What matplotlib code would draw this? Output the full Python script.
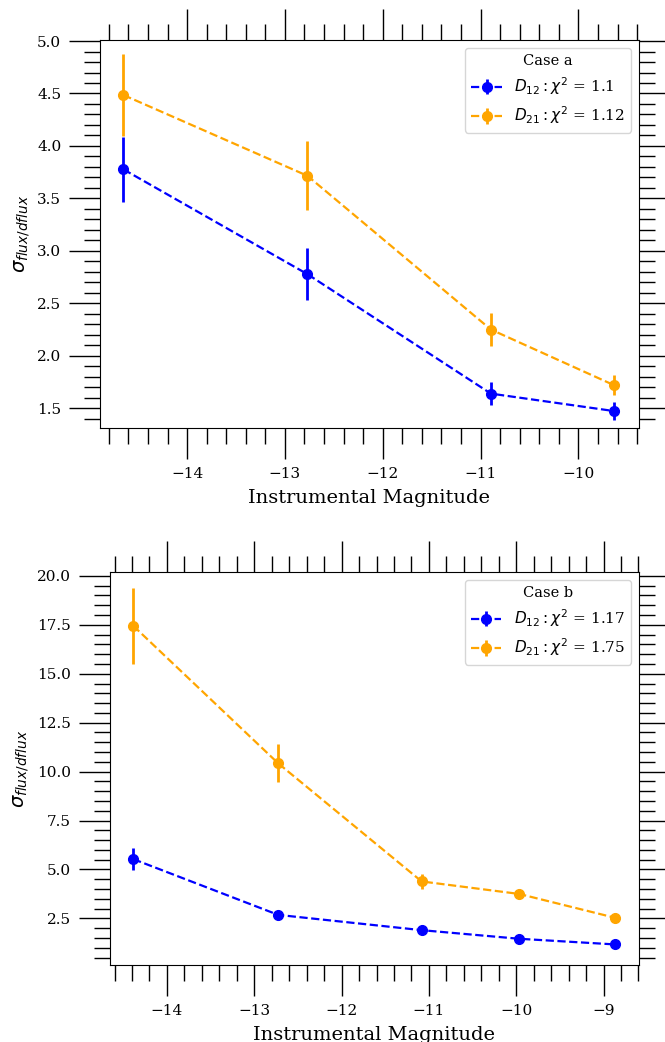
import matplotlib
matplotlib.use("Agg")
import matplotlib.pyplot as plt
from matplotlib.ticker import MultipleLocator

plt.rcParams['font.family'] = ['DejaVu Serif']
plt.rcParams['mathtext.fontset'] = 'dejavusans'

# ---- Panel a data ----
mag_a = [-14.65, -12.77, -10.895, -9.64]
d12_a = [3.776, 2.777, 1.638, 1.472]
d12_a_err = [0.31, 0.25, 0.11, 0.085]
d21_a = [4.485, 3.715, 2.249, 1.72]
d21_a_err = [0.39, 0.33, 0.16, 0.10]
chi_a = ["1.1", "1.12"]

# ---- Panel b data ----
mag_b = [-14.386, -12.725, -11.083, -9.965, -8.865]
d12_b = [5.53, 2.68, 1.90, 1.46, 1.17]
d12_b_err = [0.57, 0.12, 0.08, 0.06, 0.05]
d21_b = [17.45, 10.42, 4.39, 3.75, 2.53]
d21_b_err = [1.95, 0.97, 0.38, 0.15, 0.10]
chi_b = ["1.17", "1.75"]

W, H = 665, 1042
fig = plt.figure(figsize=(W / 100, H / 100), dpi=100)


def px_axes(l, t, r, b):
    return fig.add_axes([l / W, 1 - b / H, (r - l) / W, (b - t) / H])


ax1 = px_axes(100, 40, 638.6, 428)
ax2 = px_axes(109.6, 572, 638.6, 965)

pt = 72 / 100.0


def style(ax):
    ax.tick_params(which='both', direction='out', top=True, right=True,
                   labelsize=11)
    ax.tick_params(which='major', length=31 * pt, width=1.0, pad=5.5)
    ax.tick_params(which='minor', length=16 * pt, width=1.0)
    ax.set_xlabel('Instrumental Magnitude', fontsize=14, labelpad=6)
    ax.set_ylabel(r'$\sigma_{flux/dflux}$', fontsize=14)


def draw(ax, mag, d12, e12, d21, e21, chi, title):
    ax.errorbar(mag, d12, yerr=e12, fmt='o--', color='blue', lw=1.6,
                elinewidth=2, ms=7, label=r'$D_{12}:\chi^2$ = ' + chi[0])
    ax.errorbar(mag, d21, yerr=e21, fmt='o--', color='orange', lw=1.6,
                elinewidth=2, ms=7, label=r'$D_{21}:\chi^2$ = ' + chi[1])
    leg = ax.legend(loc='upper right', title=title, fontsize=11,
                    title_fontsize=10.5)
    leg.get_title().set_family('DejaVu Serif')


draw(ax1, mag_a, d12_a, d12_a_err, d21_a, d21_a_err, chi_a, 'Case a')
ax1.set_xlim(-14.89, -9.385)
ax1.set_ylim(1.31, 5.01)
ax1.xaxis.set_major_locator(MultipleLocator(1))
ax1.xaxis.set_minor_locator(MultipleLocator(0.2))
ax1.yaxis.set_major_locator(MultipleLocator(0.5))
ax1.yaxis.set_minor_locator(MultipleLocator(0.1))
style(ax1)

draw(ax2, mag_b, d12_b, d12_b_err, d21_b, d21_b_err, chi_b, 'Case b')
ax2.set_xlim(-14.657, -8.598)
ax2.set_ylim(0.12, 20.2)
ax2.xaxis.set_major_locator(MultipleLocator(1))
ax2.xaxis.set_minor_locator(MultipleLocator(0.2))
ax2.yaxis.set_major_locator(MultipleLocator(2.5))
ax2.yaxis.set_minor_locator(MultipleLocator(0.5))
style(ax2)

fig.savefig('out.png', dpi=100)
